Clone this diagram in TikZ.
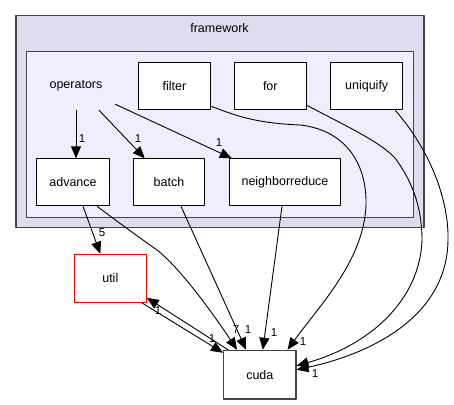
\documentclass[tikz,border=0pt]{standalone}
\usepackage{fontspec}
\setmainfont{Liberation Sans}
\usetikzlibrary{arrows.meta}

\definecolor{clusterout}{HTML}{DDDDEE}
\definecolor{clusterin}{HTML}{EEEEFF}
\definecolor{clusterline}{HTML}{444444}

\begin{document}
\begin{tikzpicture}[x=1pt, y=-1pt, line join=round,
    outerbox/.style={draw=clusterline, fill=clusterout, line width=1.4pt, inner sep=0pt},
    innerbox/.style={draw=clusterline, fill=clusterin, line width=1.2pt, inner sep=0pt},
    dirbox/.style={draw=black, fill=white, line width=1pt, inner sep=0pt,
      minimum height=47pt, font=\fontsize{12.5}{14}\selectfont},
    plain/.style={inner sep=0pt, font=\fontsize{12.5}{14}\selectfont},
    lbl/.style={inner sep=0pt, font=\fontsize{11.5}{13}\selectfont},
    dep/.style={line width=0.9pt, -{Triangle[length=12pt,width=10pt]}}]

  % ── 外层 framework 簇与内层 operators 簇 ──
  \node[outerbox, minimum width=408pt, minimum height=212pt] (frameworkbox) at (219.9,121.7) {};
  \node[plain] (frameworktitle) at (219.5,28) {framework};
  \node[innerbox, minimum width=387pt, minimum height=165.6pt] (operatorsbox) at (219.8,134.5) {};
  \node[plain, minimum width=78pt, minimum height=48pt] (operators) at (76,86) {operators};

  % ── 上排三个目录 ──
  \node[dirbox, minimum width=72.4pt] (filter)   at (174.5,86.3) {filter};
  \node[dirbox, minimum width=72pt]   (for)      at (270.3,86.3) {for};
  \node[dirbox, minimum width=72pt]   (uniquify) at (366.7,86.3) {uniquify};

  % ── 下排三个目录 ──
  \node[dirbox, minimum width=72.6pt]  (advance)        at (73,182.3)  {advance};
  \node[dirbox, minimum width=71.4pt]  (batch)          at (169,182.3) {batch};
  \node[dirbox, minimum width=111.4pt] (neighborreduce) at (285,182.3) {neighborreduce};

  % ── 簇外的 util 与 cuda ──
  \node[dirbox, draw=red, minimum width=72pt, minimum height=48pt] (util) at (110.3,278.3) {util};
  \node[dirbox, line width=1.2pt, draw=clusterline, minimum width=72.3pt, minimum height=48.7pt] (cuda) at (259.8,374.7) {cuda};

  % ── operators 内部的依赖 ──
  \draw[dep] (operators.south) -- (operators.south |- advance.north);
  \draw[dep] ([xshift=23pt]operators.south) -- ([xshift=12pt]batch.north west);
  \draw[dep] ([yshift=6pt]operators.south east) -- ([xshift=3pt]neighborreduce.north west);
  \node[lbl] (n1) at (82,139) {1};
  \node[lbl] (n2) at (138,139) {1};
  \node[lbl] (n3) at (219,143) {1};

  % ── 指向 util / cuda 的依赖 ──
  \draw[dep] ([xshift=10pt]advance.south) -- ([xshift=-10pt]util.north);
  \draw[dep] ([xshift=24pt]advance.south) .. controls (118,222) and (140,238) .. (157,250)
    .. controls (180,268) and (212,312) .. ([xshift=14pt]cuda.north west);
  \draw[dep] ([xshift=12pt]batch.south) -- ([xshift=23pt]cuda.north west);
  \draw[dep] ([xshift=-3pt]neighborreduce.south) -- ([xshift=3pt]cuda.north);
  \draw[dep] ([yshift=4pt]filter.south east) .. controls (232,114) and (252,123) .. (300,125)
    .. controls (345,130) and (367,163) .. (366,205)
    .. controls (364,260) and (320,305) .. ([xshift=-9pt]cuda.north east);
  \draw[dep] ([yshift=5pt]for.south east) .. controls (350,128) and (380,142) .. (395,158)
    .. controls (415,185) and (422,212) .. (422,240)
    .. controls (420,300) and (370,345) .. ([yshift=-16pt]cuda.north east);
  \draw[dep] ([xshift=-8pt]uniquify.south east) .. controls (430,150) and (449,200) .. (448,240)
    .. controls (447,320) and (365,355) .. ([yshift=-20pt]cuda.north east);
  \draw[dep] ([xshift=-5pt]util.south east) -- ([yshift=-3pt]cuda.north west);
  \draw[dep] ([xshift=5pt]cuda.north west) -- ([yshift=5pt]util.south east);
  \node[lbl] (n4)  at (102,233) {5};
  \node[lbl] (n5)  at (236,330) {7};
  \node[lbl] (n6)  at (248,330) {1};
  \node[lbl] (n7)  at (274,333) {1};
  \node[lbl] (n8)  at (303,342) {1};
  \node[lbl] (n9)  at (315,374) {1};
  \node[lbl] (n10) at (212,339) {1};
  \node[lbl] (n11) at (158,311) {1};

  % 钉死画布
  \pgfresetboundingbox
  \path[use as bounding box] (0,0) rectangle (454,404);
\end{tikzpicture}
\end{document}
